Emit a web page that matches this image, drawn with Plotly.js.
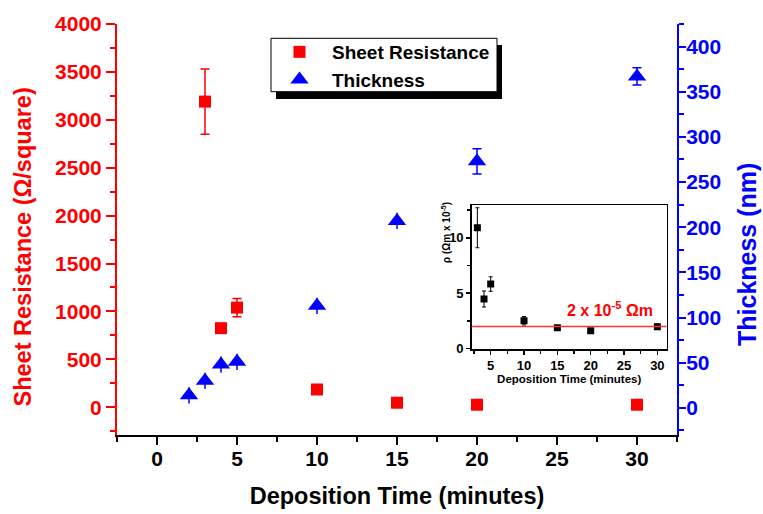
<!DOCTYPE html>
<html>
<head>
<meta charset="utf-8">
<script src="https://cdn.plot.ly/plotly-3.0.1.min.js"></script>
<style>html,body{margin:0;padding:0;background:#fff;}#chart{width:763px;height:514px;}</style>
</head>
<body>
<div id="chart"></div>
<script>
// ---- data ----
const srTime = [3, 4, 5, 10, 15, 20, 30];
const sheetRes = [3190, 825, 1040, 185, 47, 26, 26];
const sheetResErr = [340, 40, 95, 20, 15, 10, 10];
const thTime = [2, 3, 4, 5, 10, 15, 20, 30];
const thickness = [14, 30, 48, 51, 113, 207, 273, 367];
const thicknessErr = [9, 9, 9, 9, 9, 9, 14, 9.5];
const rhoTime = [3, 4, 5, 10, 15, 20, 30];
const rho = [10.9, 4.48, 5.83, 2.52, 1.89, 1.62, 1.98];
const rhoErr = [1.8, 0.72, 0.65, 0.38, 0.1, 0.08, 0.25];
const rhoRef = 2;
const seriesNames = ["Sheet Resistance", "Thickness"];
const nSmallErr = 6; // thickness points whose error bars show no caps

// ---- geometry helpers (plot area in px) ----
const L = 117, R = 677, T = 24, B = 435;
const px = x => (x - L) / (R - L);
const py = y => (B - y) / (B - T);

const FONT = "Liberation Sans, Arial, Helvetica, sans-serif";
const RED = "#ff0000", BLUE = "#0000ff";

const traces = [
  // thickness error bars (drawn beneath markers)
  {
    x: thTime.slice(0, nSmallErr), y: thickness.slice(0, nSmallErr), type: "scatter", mode: "markers",
    xaxis: "x", yaxis: "y2", showlegend: false, hoverinfo: "skip",
    marker: {size: 1, opacity: 0, color: BLUE},
    error_y: {type: "data", array: thicknessErr.slice(0, nSmallErr), visible: true, color: BLUE, thickness: 1.5, width: 0}
  },
  {
    x: thTime.slice(nSmallErr), y: thickness.slice(nSmallErr), type: "scatter", mode: "markers",
    xaxis: "x", yaxis: "y2", showlegend: false, hoverinfo: "skip",
    marker: {size: 1, opacity: 0, color: BLUE},
    error_y: {type: "data", array: thicknessErr.slice(nSmallErr), visible: true, color: BLUE, thickness: 1.5, width: 4.5}
  },
  {
    x: srTime, y: sheetRes, name: seriesNames[0], type: "scatter", mode: "markers",
    xaxis: "x", yaxis: "y",
    marker: {symbol: "square", size: 12, color: RED},
    error_y: {type: "data", array: sheetResErr, visible: true, color: RED, thickness: 1.5, width: 4.5}
  },
  {
    x: thTime, y: thickness, name: seriesNames[1], type: "scatter", mode: "markers",
    xaxis: "x", yaxis: "y2",
    marker: {symbol: "triangle-up", size: 16, color: BLUE}
  },
  {
    x: rhoTime, y: rho, type: "scatter", mode: "markers", showlegend: false,
    xaxis: "x3", yaxis: "y3",
    marker: {symbol: "square", size: 7, color: "#000"},
    error_y: {type: "data", array: rhoErr, visible: true, color: "#000", thickness: 1, width: 2}
  }
];

const tickFontMain = {family: FONT, size: 21, weight: 700};

const layout = {
  width: 763, height: 514,
  margin: {l: L, r: 763 - R, t: T, b: 514 - B, pad: 0},
  paper_bgcolor: "#fff", plot_bgcolor: "#fff",
  showlegend: true,
  legend: {
    x: px(267), y: py(33), xanchor: "left", yanchor: "top", itemwidth: 55,
    bgcolor: "rgba(0,0,0,0)", borderwidth: 0,
    font: {family: FONT, size: 19, weight: 700, color: "#000"}
  },
  xaxis: {
    range: [-2.5, 32.5], tick0: 0, dtick: 5, ticks: "outside", ticklen: 8, tickwidth: 2, tickcolor: "#000",
    minor: {dtick: 2.5, ticklen: 5, tickwidth: 2, tickcolor: "#000", ticks: "outside"},
    showline: true, linecolor: "#000", linewidth: 2, showgrid: false, zeroline: false,
    ticklabelstandoff: -4,
    tickfont: Object.assign({color: "#000"}, tickFontMain),
    title: {text: "Deposition Time (minutes)", font: {family: FONT, size: 23.5, weight: 700, color: "#000"}, standoff: 18}
  },
  xaxis2: {
    overlaying: "x", side: "top", anchor: "y", range: [-2.5, 32.5], tick0: 0, dtick: 5,
    ticks: "inside", ticklen: 8, tickwidth: 2, tickcolor: "#000", showticklabels: false,
    showline: true, linecolor: "#000", linewidth: 2, showgrid: false, zeroline: false
  },
  yaxis: {
    range: [-290, 4000], tick0: 0, dtick: 500, ticks: "outside", ticklen: 9, tickwidth: 2, tickcolor: RED,
    minor: {dtick: 250, ticklen: 5, tickwidth: 2, tickcolor: RED, ticks: "outside"},
    showline: true, linecolor: RED, linewidth: 2, showgrid: false, zeroline: false,
    tickfont: Object.assign({color: RED}, tickFontMain)
  },
  yaxis2: {
    overlaying: "y", side: "right", anchor: "x", range: [-30, 425], tick0: 0, dtick: 50,
    ticks: "outside", ticklen: 7, tickwidth: 2, tickcolor: BLUE,
    minor: {dtick: 25, ticklen: 5, tickwidth: 2, tickcolor: BLUE, ticks: "outside"},
    showline: true, linecolor: BLUE, linewidth: 2, showgrid: false, zeroline: false,
    ticklabelstandoff: -4,
    tickfont: Object.assign({color: BLUE}, tickFontMain)
  },
  xaxis3: {
    domain: [px(471.7), px(666.7)], anchor: "y3", range: [2.15, 31.4], tick0: 0, dtick: 5,
    ticks: "outside", ticklen: 4, tickwidth: 1.5, tickcolor: "#000",
    minor: {dtick: 2.5, ticklen: 3, tickwidth: 1.5, tickcolor: "#000", ticks: "outside"},
    showline: true, mirror: true, linecolor: "#000", linewidth: 1.5, showgrid: false, zeroline: false,
    tickfont: {family: FONT, size: 13, weight: 700, color: "#000"},
    title: {text: "Deposition Time (minutes)", font: {family: FONT, size: 11.5, weight: 700, color: "#000"}, standoff: 1}
  },
  yaxis3: {
    domain: [py(349.3), py(205)], anchor: "x3", range: [-0.05, 12.95], tick0: 0, dtick: 5,
    ticks: "outside", ticklen: 4, tickwidth: 1.5, tickcolor: "#000",
    minor: {dtick: 2.5, ticklen: 3, tickwidth: 1.5, tickcolor: "#000", ticks: "outside"},
    showline: true, mirror: true, linecolor: "#000", linewidth: 1.5, showgrid: false, zeroline: false,
    tickfont: {family: FONT, size: 13, weight: 700, color: "#000"}
  },
  shapes: [
    // legend shadow and box
    {type: "rect", xref: "paper", yref: "paper", x0: px(276), x1: px(502), y0: py(99), y1: py(45),
     fillcolor: "#000", line: {width: 0}, layer: "above"},
    {type: "rect", xref: "paper", yref: "paper", x0: px(271), x1: px(497), y0: py(91.7), y1: py(38.3),
     fillcolor: "#fff", line: {color: "#000", width: 1}, layer: "above"},
    // reference line in inset
    {type: "line", xref: "x3 domain", yref: "y3", x0: 0, x1: 1, y0: rhoRef, y1: rhoRef,
     line: {color: "#ff3333", width: 1.5}, layer: "above"}
  ],
  annotations: [
    // main y-axis titles
    {xref: "paper", yref: "paper", x: px(22.5), y: py(247), text: "Sheet Resistance (Ω/square)",
     textangle: -90, showarrow: false, xanchor: "center", yanchor: "middle",
     font: {family: FONT, size: 23.5, weight: 700, color: RED}},
    {xref: "paper", yref: "paper", x: px(747), y: py(255), text: "Thickness (nm)",
     textangle: -90, showarrow: false, xanchor: "center", yanchor: "middle",
     font: {family: FONT, size: 25, weight: 700, color: BLUE}},
    // inset y title and reference label
    {xref: "paper", yref: "paper", x: px(446), y: py(233), text: "ρ (Ωm x 10<sup>-5</sup>)",
     textangle: -90, showarrow: false, xanchor: "center", yanchor: "middle",
     font: {family: FONT, size: 10, weight: 700, color: "#000"}},
    {xref: "x3", yref: "y3", x: 22.9, y: 3.55, text: "2 x 10<sup>-5</sup> Ωm", showarrow: false,
     xanchor: "center", yanchor: "middle", font: {family: FONT, size: 16, weight: 700, color: RED}}
  ]
};

Plotly.newPlot("chart", traces, layout, {displayModeBar: false, staticPlot: true});
</script>
</body>
</html>
